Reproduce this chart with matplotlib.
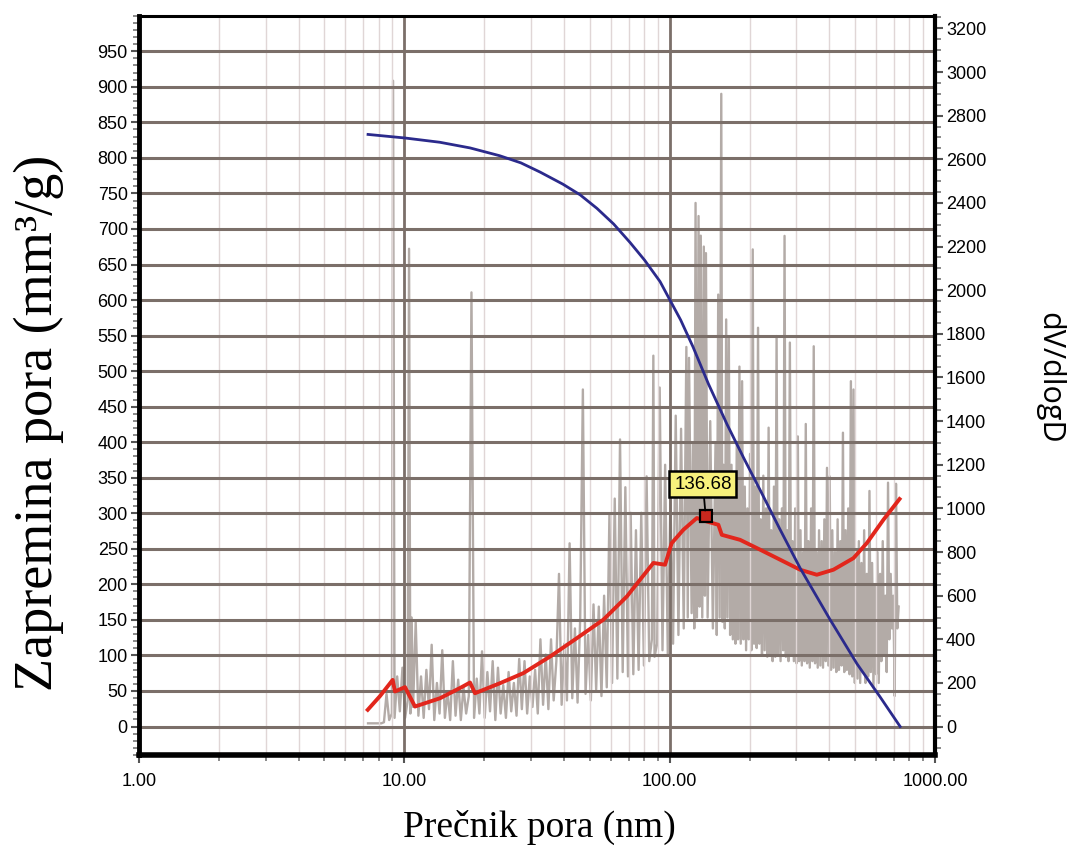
import numpy as np
import matplotlib.pyplot as plt
from matplotlib.ticker import MultipleLocator, LogLocator, NullFormatter

# cumulative pore volume (left axis, mm3/g)
blue_nm = [7.30, 10.05, 13.6, 17.7, 22.9, 27.5, 32.5, 39.6, 46.0, 53.2, 61.5, 70.9,
           80.5, 92.0, 98.6, 110.0, 122.5, 140.0, 164.6, 190.0, 219.1, 260.0,
           310.1, 400.0, 508.6, 620.0, 738.8]
blue_vol = [833, 828, 822, 814, 803, 793, 780, 763, 748, 729, 707, 681,
            656, 626, 605, 572, 534, 482, 425, 378, 333, 278,
            223, 152, 88, 42, 0]

# smoothed dV/dlogD (right axis)
red_nm = [7.28, 8.10, 9.04, 9.22, 10.06, 10.97, 13.63, 16.4, 17.69, 18.47,
          22.95, 28.09, 35.42, 44.66, 56.25, 68.92, 77.33, 86.83, 96.1, 101.8,
          112.6, 126.6, 138.0, 152.6, 157.2, 184.2, 219.1, 260.7, 310.1, 358.5,
          414.1, 492.6, 553.4, 639.1, 735.0]
red_dv = [77, 140, 214, 161, 181, 92, 130, 180, 202, 153,
          199, 245, 321, 405, 490, 596, 673, 750, 742, 841,
          902, 956, 940, 925, 879, 856, 811, 765, 719, 696,
          719, 772, 841, 948, 1043]

# raw dV/dlogD (right axis)
gray_nm = [7.30, 7.47, 7.64, 7.82, 8.00, 8.19, 8.38, 8.57, 8.77, 8.98,
           9.07, 9.19, 9.40, 9.62, 9.84, 10.07, 10.30, 10.42, 10.54, 10.66,
           10.79, 11.04, 11.30, 11.56, 11.83, 12.11, 12.39, 12.68, 12.97, 13.27,
           13.58, 13.90, 14.22, 14.55, 14.89, 15.24, 15.60, 15.96, 16.33, 16.71,
           17.10, 17.50, 17.91, 18.32, 18.75, 19.19, 19.63, 20.09, 20.56, 21.04,
           21.53, 22.03, 22.54, 23.07, 23.60, 24.15, 24.72, 25.29, 25.88, 26.48,
           27.10, 27.73, 28.38, 29.04, 29.71, 30.41, 31.11, 31.84, 32.58, 33.34,
           34.12, 34.91, 35.72, 36.55, 37.41, 38.28, 39.17, 40.08, 41.01, 41.97,
           42.95, 43.95, 44.97, 46.02, 47.09, 48.19, 49.31, 50.46, 51.64, 52.84,
           54.07, 55.33, 56.62, 57.94, 59.29, 60.67, 62.09, 63.53, 65.01, 66.53,
           68.08, 69.66, 71.29, 72.95, 74.64, 76.38, 78.16, 79.99, 81.85, 83.76,
           85.71, 86.80, 87.70, 89.74, 91.70, 93.97, 96.16, 98.40, 100.7, 103.0,
           105.4, 107.9, 110.4, 113.0, 115.6, 117.0, 118.3, 121.0, 122.4, 123.8,
           125.2, 126.7, 128.5, 129.7, 131.0, 132.7, 134.5, 135.8, 137.0, 139.0,
           142.2, 145.5, 148.9, 150.5, 152.4, 154.3, 156.5, 158.0, 159.6, 161.4,
           163.3, 165.0, 167.1, 169.0, 171.0, 173.0, 175.0, 177.0, 179.0, 181.0,
           183.2, 185.3, 187.5, 189.7, 191.9, 194.1, 196.3, 198.6, 200.9, 203.2,
           205.6, 208.0, 210.4, 212.8, 215.3, 217.8, 220.3, 222.8, 225.4, 228.0,
           230.7, 233.3, 236.0, 238.7, 241.5, 244.3, 247.2, 250.0, 252.9, 255.8,
           258.8, 261.8, 264.8, 267.9, 271.0, 274.1, 277.3, 280.5, 283.8, 287.1,
           290.4, 293.8, 297.2, 300.6, 304.1, 307.6, 311.2, 314.8, 318.4, 322.1,
           325.8, 329.6, 333.4, 337.3, 341.2, 345.1, 349.1, 353.2, 357.3, 361.4,
           365.6, 369.8, 374.1, 378.4, 382.8, 387.2, 391.7, 396.3, 400.9, 405.5,
           410.2, 415.0, 419.8, 424.6, 429.5, 434.5, 439.5, 444.6, 449.8, 455.0,
           460.2, 465.5, 470.9, 476.4, 481.9, 487.5, 493.1, 498.8, 504.6, 510.5,
           516.4, 522.4, 528.4, 534.5, 540.7, 547.0, 553.3, 559.7, 566.2, 572.8,
           579.4, 586.1, 592.9, 599.8, 606.7, 613.7, 620.8, 628.0, 635.3, 642.6,
           650.1, 657.6, 665.2, 673.0, 680.7, 688.6, 696.6, 704.7, 712.8, 720.9,
           729.4]
gray_dv = [15, 15, 15, 15, 15, 15, 20, 150, 30, 60,
           2960, 40, 230, 70, 270, 40, 120, 2190, 60, 500,
           90, 480, 50, 230, 40, 260, 80, 375, 30, 200,
           60, 350, 40, 160, 30, 300, 50, 215, 30, 180,
           60, 140, 1990, 40, 220, 60, 345, 40, 250, 70,
           300, 30, 270, 60, 190, 40, 250, 70, 200, 50,
           310, 80, 300, 60, 230, 90, 260, 60, 400, 100,
           330, 80, 400, 120, 300, 700, 100, 380, 120, 840,
           130, 450, 110, 500, 1545, 150, 420, 120, 560, 170,
           550, 140, 600, 180, 970, 200, 1045, 220, 1316, 250,
           1097, 230, 980, 240, 900, 260, 980, 280, 1147, 300,
           400, 1700, 320, 380, 1554, 350, 1200, 330, 1050, 380,
           1425, 420, 1365, 450, 1740, 500, 1690, 520, 1300, 450,
           2400, 500, 2340, 550, 2250, 500, 2200, 600, 2170, 500,
           1400, 450, 1300, 420, 1980, 500, 2900, 480, 1200, 450,
           1866, 500, 1783, 420, 1200, 400, 1100, 380, 1300, 400,
           1650, 380, 1583, 400, 1100, 350, 1000, 400, 1250, 350,
           2187, 380, 1100, 360, 1828, 380, 950, 330, 1150, 350,
           1000, 320, 1370, 330, 900, 300, 1100, 320, 1790, 330,
           950, 300, 1000, 350, 2249, 320, 900, 300, 1760, 330,
           850, 300, 1000, 290, 1330, 300, 900, 280, 800, 300,
           1387, 290, 850, 270, 1000, 300, 1743, 290, 800, 270,
           900, 280, 850, 270, 950, 300, 1186, 280, 1147, 260,
           900, 270, 800, 250, 950, 260, 850, 280, 1347, 250,
           900, 260, 1000, 240, 1583, 230, 1545, 200, 800, 220,
           850, 200, 750, 250, 900, 200, 700, 230, 1080, 250,
           750, 180, 650, 240, 800, 200, 700, 300, 850, 330,
           600, 250, 1118, 400, 700, 450, 600, 140, 1113, 450,
           550]

peak_nm = 136.68
peak_dv = 965
peak_label = '136.68'

x_ticks = [1, 10, 100, 1000]
x_ticklabels = ['1.00', '10.00', '100.00', '1000.00']
left_ticks = np.arange(0, 951, 50)
right_ticks = np.arange(0, 3201, 200)

fig = plt.figure(figsize=(10.73, 8.5), dpi=100)
ax = fig.add_axes([0.1295, 0.1118, 0.7419, 0.8697])
ax.set_xscale('log')
ax2 = ax.twinx()
ax.set_zorder(2)
ax2.set_zorder(1)
ax.patch.set_visible(False)

# raw data underneath everything
ax2.plot(gray_nm, gray_dv, color='#b3aba7', lw=1.7, zorder=1)

# grid
ax.yaxis.grid(True, which='major', color='#7b6f69', lw=2.2)
ax.xaxis.grid(True, which='major', color='#7b6f69', lw=2.0)
ax.xaxis.grid(True, which='minor', color='#e0d6d6', lw=1.0)

ax.plot(red_nm, red_dv, color='#e2261c', lw=2.8, transform=ax2.transData, zorder=3)
ax.plot(blue_nm, blue_vol, color='#2b2a8c', lw=2.0, zorder=4)

ax.plot([peak_nm], [peak_dv], marker='s', ms=8, mfc='#c8281e', mec='k', mew=1.6,
        transform=ax2.transData, zorder=6)
ax.annotate(peak_label, xy=(peak_nm, peak_dv), xycoords=ax2.transData,
            xytext=(-2, 23), textcoords='offset points', ha='center', va='center',
            fontsize=13.5, family='Liberation Sans', zorder=7,
            bbox=dict(boxstyle='square,pad=0.25', fc='#f7f17c', ec='k', lw=1.8),
            arrowprops=dict(arrowstyle='-', color='k', lw=1.3, shrinkA=0, shrinkB=4))

ax.set_xlim(1, 1000)
ax.set_ylim(-40, 1000)
ax2.set_ylim(-130, 3258)

ax.set_xticks(x_ticks)
ax.set_xticklabels(x_ticklabels)
ax.xaxis.set_minor_locator(LogLocator(base=10, subs=np.arange(2, 10)))
ax.xaxis.set_minor_formatter(NullFormatter())
ax.set_yticks(left_ticks)
ax.yaxis.set_minor_locator(MultipleLocator(10))
ax2.set_yticks(right_ticks)
ax2.yaxis.set_minor_locator(MultipleLocator(50))

for a in (ax, ax2):
    a.tick_params(which='major', direction='out', length=6, width=1.5, color='#555555',
                  labelsize=13, pad=2)
    a.tick_params(which='minor', direction='out', length=4, width=1.2, color='#777777')
    for lab in a.get_xticklabels() + a.get_yticklabels():
        lab.set_family('Liberation Sans')
ax.tick_params(axis='x', which='major', pad=7)

for s in ax2.spines.values():
    s.set_visible(False)
ax.spines['left'].set_linewidth(3.5)
ax.spines['bottom'].set_linewidth(4)
ax.spines['right'].set_linewidth(3)
ax.spines['top'].set_linewidth(2.2)

fig.text(0.036, 0.503, 'Zapremina pora (mm³/g)', rotation=90,
         family='Liberation Serif', fontsize=39, ha='center', va='center')
fig.text(0.503, 0.026, 'Prečnik pora (nm)', family='Liberation Serif',
         fontsize=27, ha='center', va='center')
fig.text(0.978, 0.555, 'dV/dlogD', rotation=270, family='Open Sans',
         fontsize=22, ha='center', va='center')

fig.savefig('out.png', dpi=100)
